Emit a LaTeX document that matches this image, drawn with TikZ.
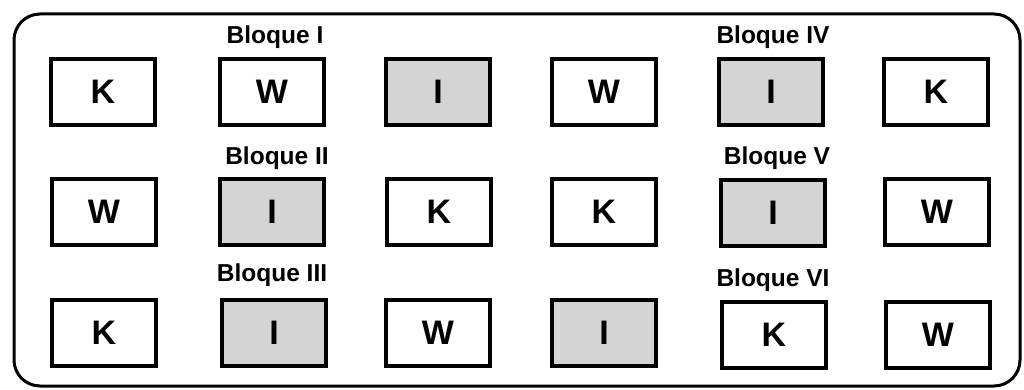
\documentclass[tikz,border=0pt]{standalone}
\usepackage{fontspec}
\setmainfont{Liberation Sans}
\begin{document}
\begin{tikzpicture}[x=1pt,y=-1pt,
  cell/.style={draw=black, line width=3.6pt, minimum width=104pt, minimum height=66pt,
    inner sep=0pt, font=\fontsize{34}{34}\selectfont\bfseries, fill=white},
  shaded/.style={cell, fill=black!17},
  blk/.style={font=\fontsize{24.5}{24.5}\selectfont\bfseries, inner sep=0pt}]
\useasboundingbox (0,0) rectangle (1024,390);
\draw[line width=3pt, rounded corners=26pt] (14,14) rectangle (1020,386);
% row 1
\node[cell]   (a1) at (103,92)  {K};
\node[cell]   (a2) at (272,92)  {W};
\node[shaded] (a3) at (438,92)  {I};
\node[cell]   (a4) at (604,92)  {W};
\node[shaded] (a5) at (771,92)  {I};
\node[cell]   (a6) at (936,92)  {K};
% row 2
\node[cell]   (b1) at (104,212) {W};
\node[shaded] (b2) at (272,212) {I};
\node[cell]   (b3) at (439,212) {K};
\node[cell]   (b4) at (604,212) {K};
\node[shaded] (b5) at (773,213) {I};
\node[cell]   (b6) at (937,212) {W};
% row 3
\node[cell]   (c1) at (104,333) {K};
\node[shaded] (c2) at (274,333) {I};
\node[cell]   (c3) at (438,333) {W};
\node[shaded] (c4) at (604,333) {I};
\node[cell]   (c5) at (774,335) {K};
\node[cell]   (c6) at (938,335) {W};
% labels
\node[blk] (l1) at (275,37)  {Bloque I};
\node[blk] (l4) at (773,37)  {Bloque IV};
\node[blk] (l2) at (277,158) {Bloque II};
\node[blk] (l5) at (777,158) {Bloque V};
\node[blk] (l3) at (272,275) {Bloque III};
\node[blk] (l6) at (773,280) {Bloque VI};
\end{tikzpicture}
\end{document}
